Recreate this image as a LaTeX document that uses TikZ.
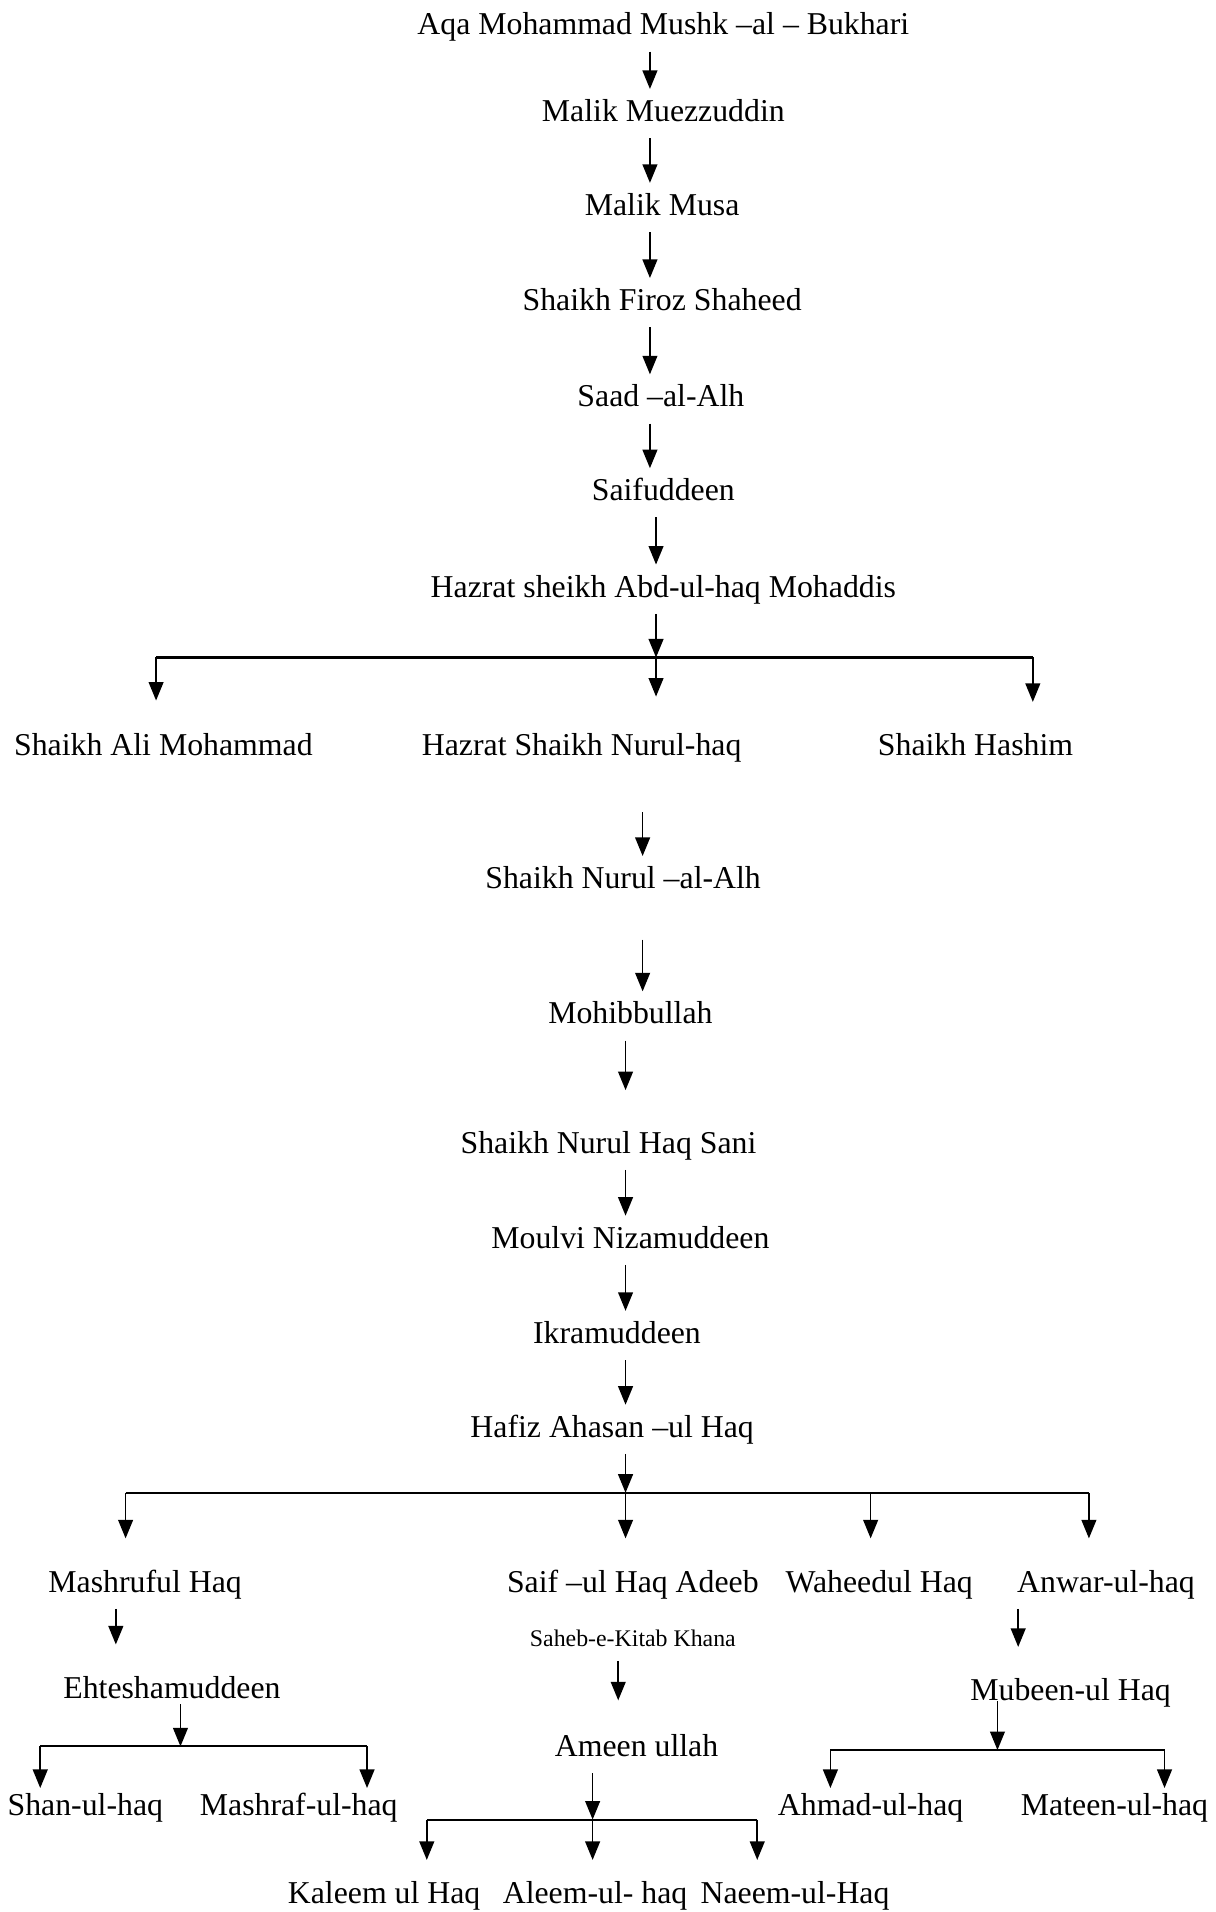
\documentclass[tikz,border=0pt]{standalone}
\usepackage{fontspec}
\setmainfont{Liberation Serif}
\usetikzlibrary{
  arrows.meta,
  positioning,  % Function "of" (e.g. [below=of x])
}
\def\myunit{0.4603pt}
\tikzset{
  person/.style={
    font=\fontsize{12}{14}\selectfont,
    text height=8.5pt,
    text depth=2.5pt,
    inner sep=3.5pt,
    yshift=-1pt
  },
  note/.style={
    font=\fontsize{9}{11}\selectfont,
    text height=6.5pt,
    text depth=2pt,
    inner sep=3pt
  },
  bar/.style={
    thick
  },
  drop/.style={
    shorten >=#1
  },
  drop/.default=8pt,
  family/.style={
    x=\myunit,
    y=-\myunit,
    semithick,
    >={Triangle[width=5.6pt,length=7pt]},
    every node/.style={person}
  }
}

\begin{document}
\begin{tikzpicture}[family]
\useasboundingbox (0,0) rectangle (997,1568);
% line of descent
\node (aqa)       at (544,20)   {Aqa Mohammad Mushk --al -- Bukhari};
\node (muez)      at (544,91)   {Malik Muezzuddin};
\node (musa)      at (543,168)  {Malik Musa};
\node (firoz)     at (543,246)  {Shaikh Firoz Shaheed};
\node (saad)      at (542,325)  {Saad --al-Alh};
\node (saifud)    at (544,402)  {Saifuddeen};
\node (abdulhaq)  at (544,481)  {Hazrat sheikh Abd-ul-haq Mohaddis};
\node (ali)       at (134,611)  {Shaikh Ali Mohammad};
\node (nurul)     at (477,611)  {Hazrat Shaikh Nurul-haq};
\node (hashim)    at (800,611)  {Shaikh Hashim};
\node (nurulalh)  at (511,720)  {Shaikh Nurul --al-Alh};
\node (mohib)     at (517,831)  {Mohibbullah};
\node (sani)      at (499,937)  {Shaikh Nurul Haq Sani};
\node (nizam)     at (517,1015) {Moulvi Nizamuddeen};
\node (ikram)     at (506,1093) {Ikramuddeen};
\node (ahasan)    at (502,1170) {Hafiz Ahasan --ul Haq};
% sons of Hafiz Ahasan
\node (mashruf)   at (119,1297) {Mashruful Haq};
\node (saifulhaq) at (519,1297) {Saif --ul Haq Adeeb};
\node[note] (saheb) [below=3.5pt of saifulhaq] {Saheb-e-Kitab Khana};
\node (waheed)    at (721,1297) {Waheedul Haq};
\node (anwar)     at (907,1297) {Anwar-ul-haq};
\node (ehtesham)  at (141,1384) {Ehteshamuddeen};
\node (ameen)     at (522,1432) {Ameen ullah};
\node (mubeen)    at (878,1386) {Mubeen-ul Haq};
\node (shan)      at (70,1480)  {Shan-ul-haq};
\node (mashraf)   at (245,1480) {Mashraf-ul-haq};
\node (ahmad)     at (714,1480) {Ahmad-ul-haq};
\node (mateen)    at (914,1480) {Mateen-ul-haq};
\node (kaleem)    at (315,1552) {Kaleem ul Haq};
\node (aleem)     at (488,1552) {Aleem-ul- haq};
\node (naeem)     at (652,1552) {Naeem-ul-Haq};

% arrow columns and fork points
\coordinate (c1)  at (533,0);
\coordinate (c2)  at (527,0);
\coordinate (c4)  at (95,0);
\coordinate (c5)  at (507,0);
\coordinate (c6)  at (835,0);
\coordinate (f1a) at (128,537);
\coordinate (f1b) at (538,537);
\coordinate (f1c) at (847,537);
\coordinate (f2a) at (103,1222);
\coordinate (f2b) at (513,1222);
\coordinate (f2c) at (714,1222);
\coordinate (f2d) at (893,1222);
\coordinate (f3a) at (33,1430);
\coordinate (f3b) at (148,1430);
\coordinate (f3c) at (301,1430);
\coordinate (f4a) at (681,1433);
\coordinate (f4b) at (818,1433);
\coordinate (f4c) at (955,1433);
\coordinate (f5a) at (350,1490);
\coordinate (f5b) at (486,1490);
\coordinate (f5c) at (621,1490);

\draw[bar] (f1a) -- (f1c);
\draw[bar] (f2a) -- (f2d);
\draw[bar] (f3a) -- (f3c);
\draw[bar] (f4a) -- (f4c);
\draw[bar] (f5a) -- (f5c);

\path[->] (aqa.south -| c1)       edge (muez.north -| c1)
          (muez.south -| c1)      edge (musa.north -| c1)
          (musa.south -| c1)      edge (firoz.north -| c1)
          (firoz.south -| c1)     edge (saad.north -| c1)
          (saad.south -| c1)      edge (saifud.north -| c1)
          (saifud.south -| f1b)   edge (abdulhaq.north -| f1b)
          (abdulhaq.south -| f1b) edge (f1b)
          (f1a) edge[drop=8.5pt]  (f1a |- ali.north)
          (f1b) edge[drop=10pt]   (f1b |- nurul.north)
          (f1c) edge[drop=8pt]    (f1c |- hashim.north);
\path[->] (nurul.south -| c2)    edge[shorten <=15pt]   (nurulalh.north -| c2)
          (nurulalh.south -| c2) edge[shorten <=13pt]   (mohib.north -| c2)
          (mohib.south -| f2b)   edge[shorten >=11.5pt] (sani.north -| f2b)
          (sani.south -| f2b)    edge                   (nizam.north -| f2b)
          (nizam.south -| f2b)   edge                   (ikram.north -| f2b)
          (ikram.south -| f2b)   edge                   (ahasan.north -| f2b)
          (ahasan.south -| f2b)  edge                   (f2b)
          (f2a) edge[drop] (f2a |- mashruf.north)
          (f2b) edge[drop] (f2b |- saifulhaq.north)
          (f2c) edge[drop] (f2c |- waheed.north)
          (f2d) edge[drop] (f2d |- anwar.north);
\path[->] (mashruf.south -| c4) edge[drop]     (ehtesham.north -| c4)
          (saheb.south -| c5)   edge[drop=9pt] (ameen.north -| c5)
          (anwar.south -| c6)   edge[drop]     (mubeen.north -| c6)
          (ehtesham.south -| f3b) edge[shorten <=-4pt] (f3b)
          (f3a) edge[drop=-2pt] (f3a |- shan.north)
          (f3c) edge[drop=-2pt] (f3c |- mashraf.north)
          (mubeen.south -| f4b) edge[shorten <=-6pt] (f4b)
          (f4a) edge[drop=-2pt] (f4a |- ahmad.north)
          (f4c) edge[drop=-2pt] (f4c |- mateen.north)
          (ameen.south -| f5b)  edge (f5b)
          (f5a) edge[drop=4pt] (f5a |- kaleem.north)
          (f5b) edge[drop=4pt] (f5b |- aleem.north)
          (f5c) edge[drop=4pt] (f5c |- naeem.north);
\end{tikzpicture}
\end{document}
